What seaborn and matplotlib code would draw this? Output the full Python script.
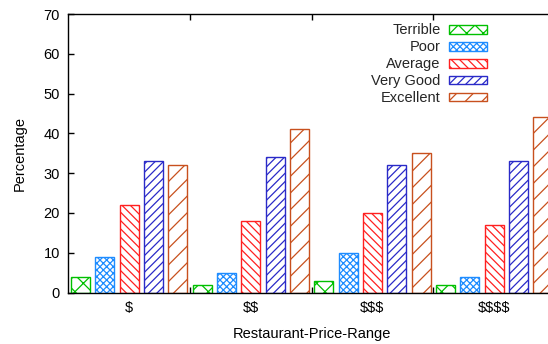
import matplotlib
matplotlib.use("Agg")
import matplotlib.pyplot as plt
import pandas as pd
import seaborn as sns
from matplotlib.patches import Patch

# Review share per rating level, by restaurant price range
price_ranges = ["$", "$$", "$$$", "$$$$"]
ratings = ["Terrible", "Poor", "Average", "Very Good", "Excellent"]
terrible = [4, 2, 3, 2]
poor = [9, 5, 10, 4]
average = [22, 18, 20, 17]
very_good = [33, 34, 32, 33]
excellent = [32, 41, 35, 44]

rating_colors = ["#00c000", "#1e8cff", "#ff2020", "#2a2ac8", "#c8501e"]
rating_hatches = ["xx", "xxxxx", "\\\\\\\\", "////", "//"]

series = [terrible, poor, average, very_good, excellent]
df = pd.DataFrame(
    [
        {"price": p, "rating": r, "pct": v}
        for r, vals in zip(ratings, series)
        for p, v in zip(price_ranges, vals)
    ]
)

sns.set_style("ticks")
plt.rcParams["font.family"] = ["Liberation Sans", "DejaVu Sans"]
plt.rcParams["text.parse_math"] = False
plt.rcParams["hatch.linewidth"] = 0.9
FS = 10.5

fig = plt.figure(figsize=(5.48, 3.44), dpi=100)
ax = fig.add_axes([0.1246, 0.1497, 0.8881, 0.8096])

sns.barplot(
    data=df, x="price", y="pct", hue="rating",
    order=price_ranges, hue_order=ratings, palette=rating_colors,
    width=1.0, gap=0.22, fill=False, linewidth=1.0,
    errorbar=None, legend=False, ax=ax,
)

for cont, col, hat in zip(ax.containers, rating_colors, rating_hatches):
    for bar in cont:
        bar.set_facecolor("none")
        bar.set_edgecolor(col)
        bar.set_hatch(hat)
        bar.set_linewidth(1.0)

ax.set_xlim(-0.5, 3.5)
ax.set_ylim(0, 70)
ax.set_yticks(range(0, 71, 10))
ax.set_xticks(range(len(price_ranges)))
ax.set_xticklabels(price_ranges)
ax.set_xticks([0.5, 1.5, 2.5], minor=True)

for side in ["left", "right", "top", "bottom"]:
    ax.spines[side].set_visible(True)
    ax.spines[side].set_linewidth(1.0)
    ax.spines[side].set_color("black")

ax.tick_params(axis="y", direction="in", length=4, width=1, pad=6,
               labelsize=FS, colors="black", right=True)
ax.tick_params(axis="x", which="major", length=0, pad=6,
               labelsize=FS, colors="black")
ax.tick_params(axis="x", which="minor", direction="in", length=4, width=1,
               top=True, bottom=True, colors="black")

ax.set_xlabel("Restaurant-Price-Range", fontsize=FS, color="black")
ax.set_ylabel("Percentage", fontsize=FS, color="black")
ax.xaxis.set_label_coords(0.5, -0.125)
ax.yaxis.set_label_coords(-0.085, 0.5)

handles = [
    Patch(facecolor="none", edgecolor=c, hatch=h, linewidth=1.0)
    for c, h in zip(rating_colors, rating_hatches)
]
ax.legend(
    handles, ratings, loc="upper right",
    bbox_to_anchor=(487 / 548, 1 - 23.5 / 344), bbox_transform=fig.transFigure,
    frameon=False, markerfirst=False, fontsize=FS,
    handlelength=2.6, handleheight=0.55, handletextpad=0.59,
    labelspacing=0.2, borderpad=0, borderaxespad=0,
)

fig.savefig("out.png", dpi=100)
